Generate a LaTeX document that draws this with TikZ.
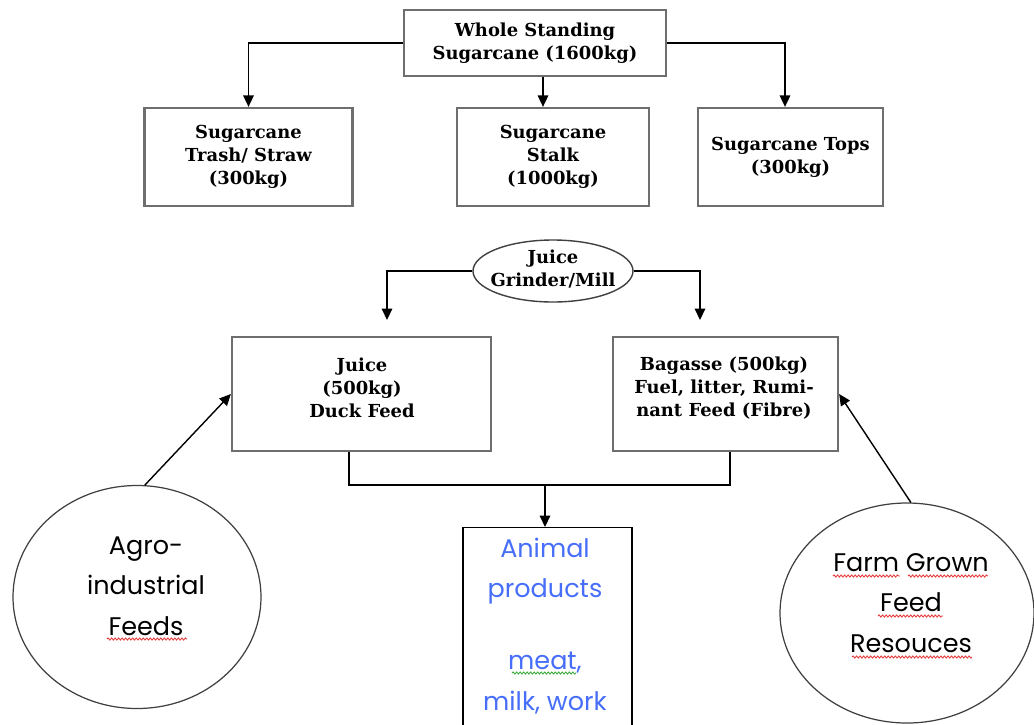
\documentclass[tikz,border=0pt]{standalone}
\usepackage{fontspec}
\usetikzlibrary{arrows.meta,shapes.geometric,decorations.pathmorphing}
\newfontfamily\boxfont{DejaVu Serif}
\newfontfamily\handfont{Poppins}
\definecolor{boxline}{RGB}{110,110,110}
\definecolor{prodblue}{RGB}{70,110,250}
\definecolor{spellred}{RGB}{230,60,60}
\definecolor{spellgreen}{RGB}{60,170,60}
\tikzset{
  px/.style={x=0.02cm,y=-0.02cm},
  stagebox/.style={draw=boxline,line width=1.3pt,fill=white,inner sep=0pt},
  stagetext/.style={font=\boxfont\bfseries\fontsize{10.2pt}{13pt}\selectfont,align=center,inner sep=0pt},
  handtext/.style={font=\handfont\fontsize{14.5pt}{23pt}\selectfont,align=center,inner sep=0pt},
  feedcircle/.style={draw=black!75,line width=0.7pt,ellipse,inner sep=0pt},
  link/.style={draw=black,line width=0.8pt},
  arr/.style={link,-{Triangle[length=6.5pt,width=6pt]}},
  squiggle/.style={line width=0.5pt,decorate,decoration={snake,segment length=2pt,amplitude=0.6pt}}
}
\begin{document}
\begin{tikzpicture}[px]
\useasboundingbox (0,0) rectangle (1034,724);
\fill[white] (0,0) rectangle (1034,724);
\clip (0,0) rectangle (1034,724);

% harvest: whole cane and its three parts
\node[stagebox,stagetext,minimum width=262*0.02cm,minimum height=66*0.02cm] (whole) at (535,43)
  {Whole Standing\\Sugarcane (1600kg)};
\node[stagebox,stagetext,minimum width=208*0.02cm,minimum height=98*0.02cm] (trash) at (248.5,157)
  {Sugarcane\\Trash/ Straw\\(300kg)};
\node[stagebox,stagetext,minimum width=192*0.02cm,minimum height=98*0.02cm] (stalk) at (553,157)
  {Sugarcane\\Stalk\\(1000kg)};
\node[stagebox,stagetext,minimum width=185*0.02cm,minimum height=98*0.02cm] (tops) at (790.5,157)
  {Sugarcane Tops\\(300kg)};

\draw[arr] (whole.west) -| (trash.north);
\draw[arr] (543,0 |- whole.south) -- (543,0 |- stalk.north);
\draw[arr] (whole.east) -| (785,0 |- tops.north);

% milling
\node[draw=black!75,line width=0.8pt,ellipse,minimum width=160*0.02cm,minimum height=62*0.02cm,
      inner sep=0pt] (mill) at (553,271) {};
\node[stagetext] (milltxt) at (553,269) {Juice\\Grinder/Mill};

\node[stagebox,minimum width=259*0.02cm,minimum height=114*0.02cm] (juice) at (361.5,394) {};
\node[stagetext] (juicetxt) at (362,388) {Juice\\(500kg)\\Duck Feed};
\node[stagebox,minimum width=225*0.02cm,minimum height=114*0.02cm] (bagasse) at (725.5,394) {};
\node[stagetext] (bagassetxt) at (724,388) {Bagasse (500kg)\\Fuel, litter, Rumi-\\nant Feed (Fibre)};

\coordinate (jtip) at (387,320);
\coordinate (btip) at (700,320);
\draw[arr] (mill.west) -| (jtip);
\draw[arr] (mill.east) -| (btip);

% outputs to livestock
\node[draw=black,line width=0.8pt,fill=white,minimum width=169*0.02cm,minimum height=240*0.02cm,
      anchor=north] (animal) at (547.5,527) {};
\node[handtext,text=prodblue] (animaltxt) at (545,626)
  {Animal\\products\\[18pt]meat,\\milk, work};

\coordinate (join) at (545,485);
\draw[link] (349,0 |- juice.south) |- (join) -| (730,0 |- bagasse.south);
\draw[arr] (join) -- (join |- animal.north);

% external feed resources
\node[feedcircle,minimum width=248*0.02cm,minimum height=223*0.02cm] (agro) at (137,597) {};
\node[handtext] (agrotxt) at (146,586) {Agro-\\industrial\\Feeds};
\node[feedcircle,minimum width=254*0.02cm,minimum height=220*0.02cm] (farm) at (907,613) {};
\node[handtext] (farmtxt) at (911,603) {Farm Grown\\Feed\\Resouces};

\draw[arr] (agro.86) -- (juice.west);
\draw[arr] (farm.88) -- (bagasse.east);

% proofing marks under words
\draw[squiggle,spellred] (107,639) -- (187,639);
\draw[squiggle,spellred] (833,576) -- (900,576);
\draw[squiggle,spellred] (908,576) -- (988,576);
\draw[squiggle,spellred] (878,616) -- (943,616);
\draw[squiggle,spellred] (852,657) -- (972,657);
\draw[squiggle,spellgreen] (512,673) -- (576,673);
\end{tikzpicture}
\end{document}
